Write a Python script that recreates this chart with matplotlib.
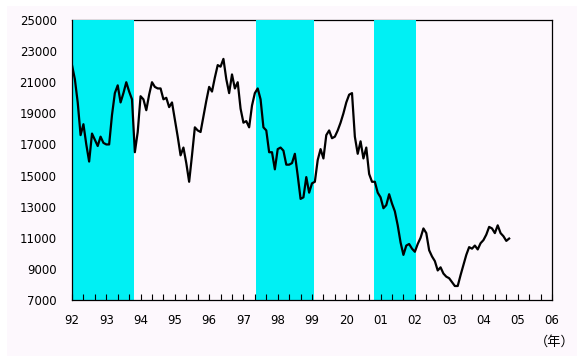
import matplotlib
matplotlib.use("Agg")
import matplotlib.pyplot as plt
import numpy as np
from matplotlib.ticker import MultipleLocator, FixedLocator
from matplotlib.patches import Rectangle

# Monthly index values, Jan 1992 onward
values = [
    22100, 21200, 19700, 17600, 18300, 17000, 15900, 17700, 17300, 16900, 17500, 17100,  # 92
    17000, 17000, 18900, 20300, 20800, 19700, 20300, 21000, 20400, 19900, 16500, 17800,  # 93
    20100, 19900, 19200, 20200, 21000, 20700, 20600, 20600, 19900, 20000, 19400, 19700,  # 94
    18600, 17500, 16300, 16800, 15800, 14600, 16300, 18100, 17900, 17800, 18800, 19800,  # 95
    20700, 20400, 21300, 22100, 22000, 22500, 21200, 20300, 21500, 20600, 21000, 19300,  # 96
    18400, 18500, 18100, 19500, 20300, 20600, 19900, 18100, 17900, 16500, 16500, 15400,  # 97
    16700, 16800, 16600, 15700, 15700, 15800, 16400, 15000, 13500, 13600, 14900, 13900,  # 98
    14500, 14600, 16000, 16700, 16100, 17600, 17900, 17400, 17500, 17900, 18400, 19000,  # 99
    19700, 20200, 20300, 17500, 16400, 17200, 16100, 16800, 15100, 14600, 14600, 13900,  # 00
    13600, 12900, 13100, 13800, 13200, 12700, 11800, 10700, 9900, 10500, 10600, 10300,   # 01
    10100, 10600, 11000, 11600, 11300, 10200, 9800, 9500, 8900, 9100, 8700, 8500,         # 02
    8400, 8150, 7900, 7900, 8600, 9250, 9900, 10400, 10300, 10500, 10250, 10650,          # 03
    10850, 11200, 11700, 11600, 11300, 11800, 11300, 11100, 10800, 10950,                 # 04
]
start_year = 1992
shaded_spans = [(1992.0, 1993.8), (1997.37, 1999.05), (2000.8, 2002.03)]
year_ticks = list(range(1992, 2007))
year_labels = ["92", "93", "94", "95", "96", "97", "98", "99", "20",
               "01", "02", "03", "04", "05", "06"]
y_ticks = list(range(7000, 25001, 2000))
unit_label = "（年）"

x = start_year + np.arange(len(values)) / 12.0

fig = plt.figure(figsize=(5.88, 3.64), dpi=100, facecolor="white")
fig.patches.append(Rectangle((7 / 588, 8 / 364), 570 / 588, 350 / 364,
                             transform=fig.transFigure, facecolor="#FDF8FD",
                             edgecolor="none", zorder=-10))
ax = fig.add_axes([72 / 588, 64 / 364, 480 / 588, 280 / 364])
ax.set_facecolor("#FDF8FD")

ax.set_xlim(1992, 2006)
ax.set_ylim(7000, 25000)

# top border drawn beneath the shaded spans (spans cover it in the reference)
ax.spines["top"].set_visible(False)
ax.axhline(25000, color="black", lw=0.9, zorder=0.5, clip_on=False)

for a, b in shaded_spans:
    ax.axvspan(a, b, color="#00F0F4", lw=0, zorder=1)

ax.plot(x, values, color="black", lw=1.6, zorder=3)

ax.xaxis.set_major_locator(FixedLocator(year_ticks))
ax.set_xticklabels(year_labels)
ax.xaxis.set_minor_locator(MultipleLocator(1 / 3))
ax.set_yticks(y_ticks)
ax.set_yticklabels([str(v) for v in y_ticks])

ax.tick_params(axis="x", which="both", direction="in", length=4, width=0.8,
               labelsize=8.5, pad=10, top=False)
ax.tick_params(axis="y", which="both", length=0, labelsize=8.5, pad=11)

for name in ("left", "right", "bottom"):
    ax.spines[name].set_color("black")
    ax.spines[name].set_linewidth(0.9)

fig.text(555 / 588, 1 - 342 / 364, unit_label, ha="center", va="center",
         fontsize=9.5, family=["Noto Sans CJK JP", "DejaVu Sans"])

fig.savefig("out.png", dpi=100, facecolor=fig.get_facecolor())
